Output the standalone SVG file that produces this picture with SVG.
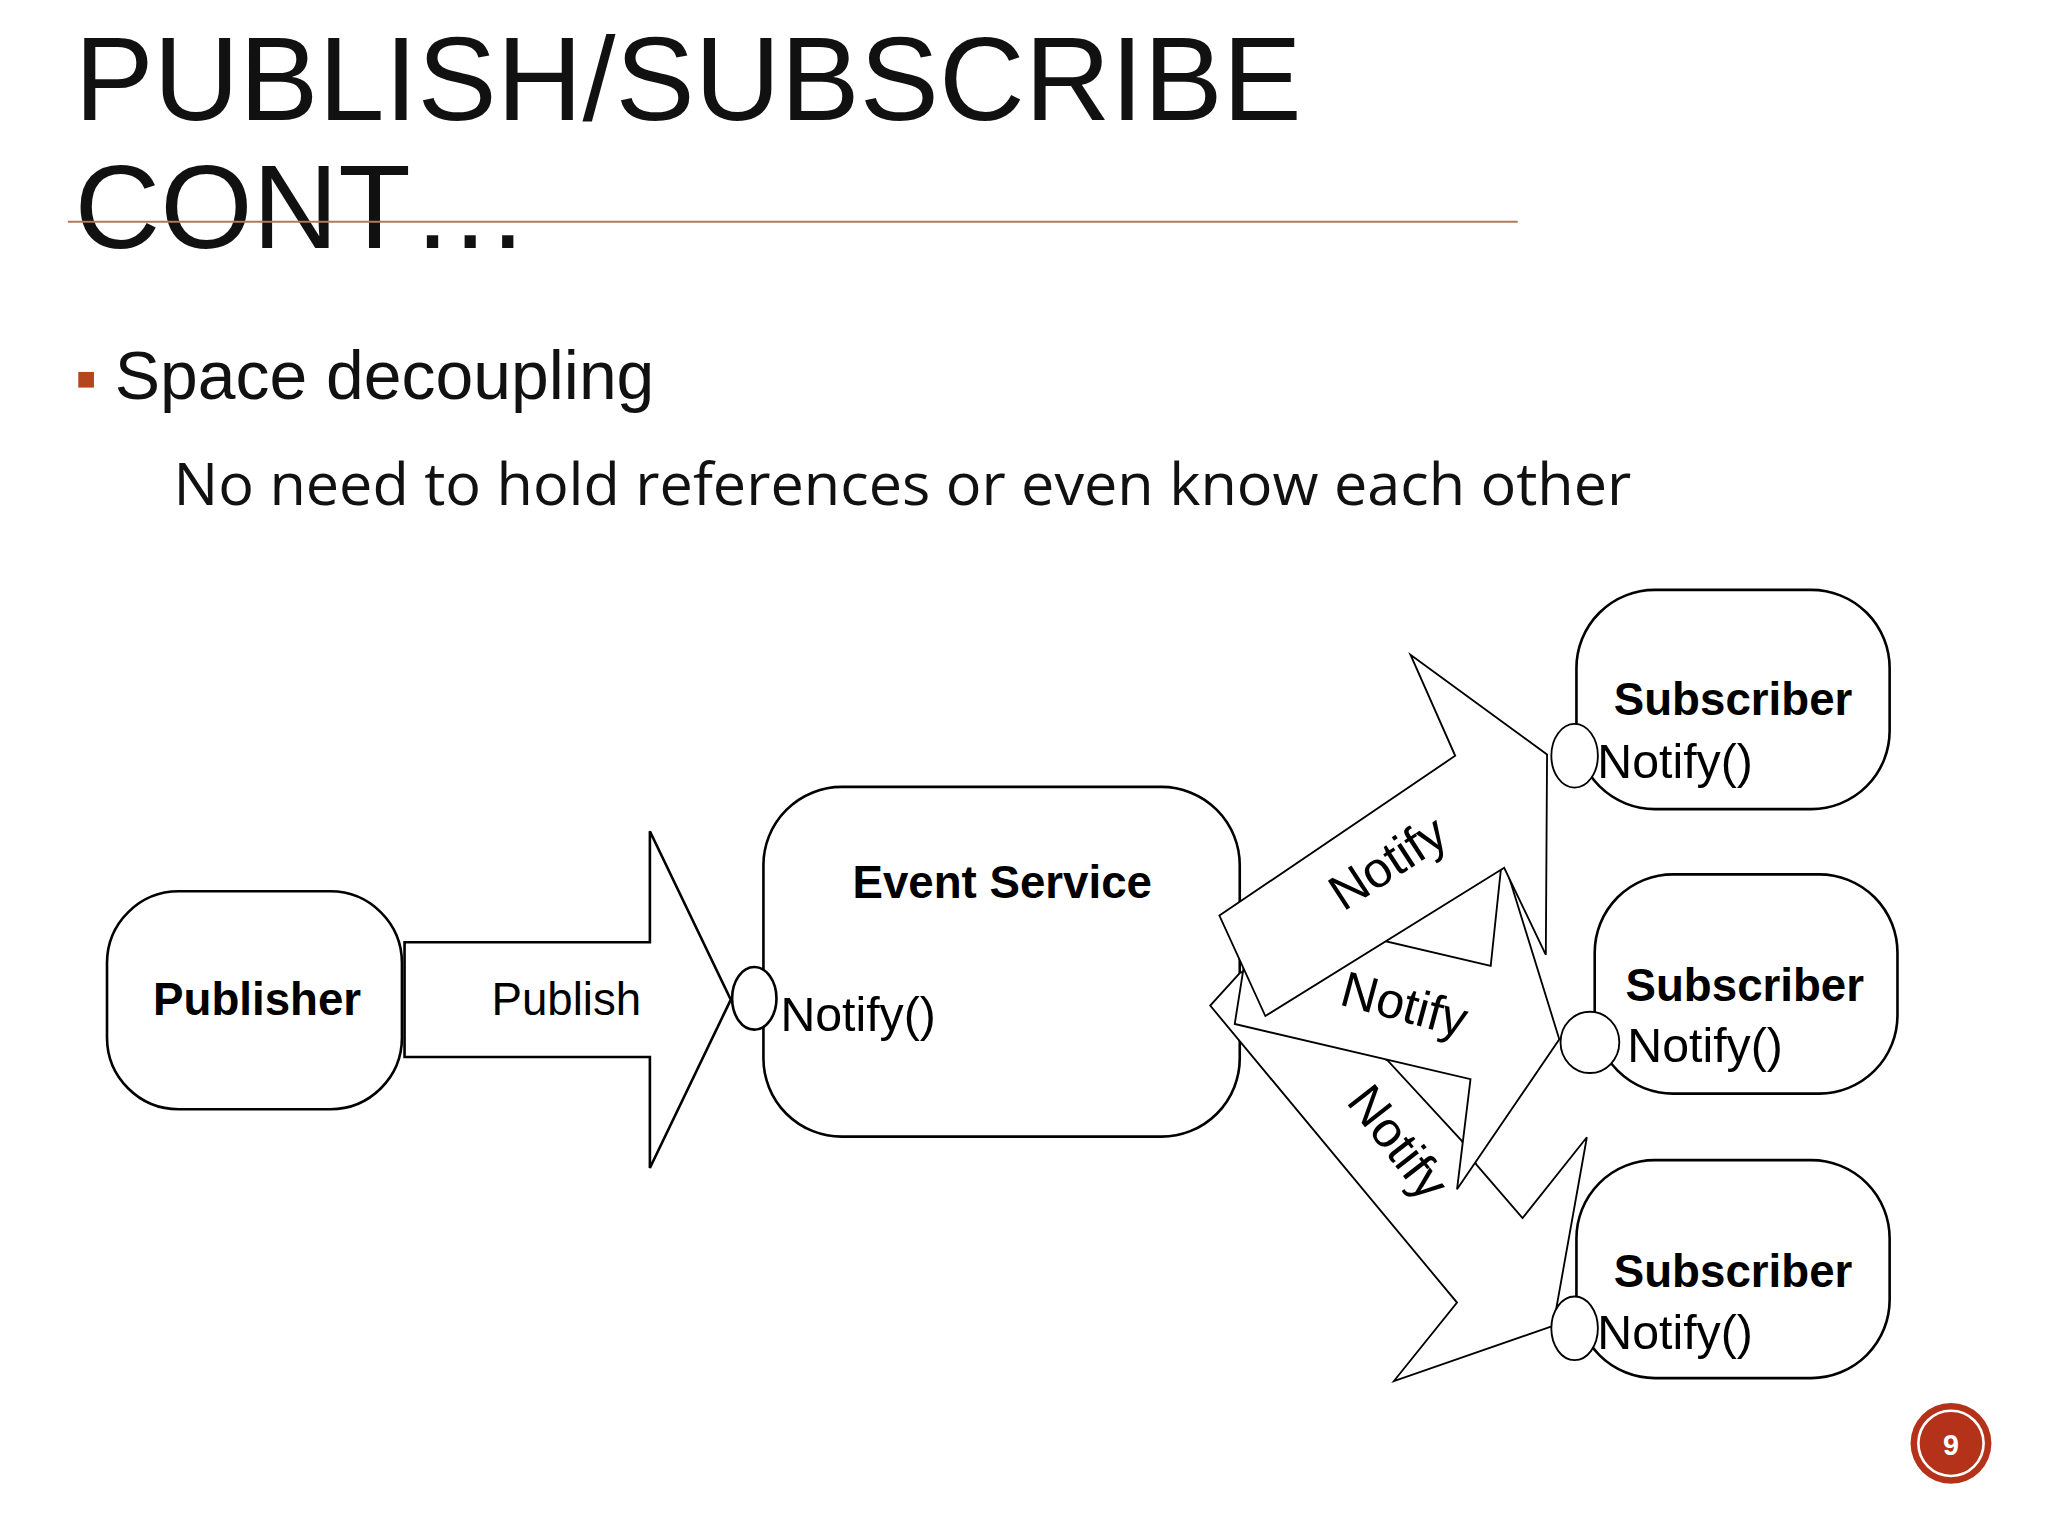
<svg xmlns="http://www.w3.org/2000/svg" width="2048" height="1536" viewBox="0 0 2048 1536">
<style>
.box{fill:#fff;stroke:#000;stroke-width:2}
.arr{fill:#fff;stroke:#000;stroke-width:3;stroke-linejoin:miter}
.b{font-family:"Liberation Sans",Arial,sans-serif;font-weight:bold;font-size:35px;text-anchor:middle}
.n{font-family:"Liberation Sans",Arial,sans-serif;font-size:37px}
</style>
<rect width="2048" height="1536" fill="#fff"/>
<g transform="scale(1.305)">
<g id="title">
<text x="57" y="92" font-family="Liberation Sans,Arial,sans-serif" font-size="91" fill="#111">PUBLISH/SUBSCRIBE</text>
<text x="57" y="190" font-family="Liberation Sans,Arial,sans-serif" font-size="91" fill="#111">CONT…</text>
<line x1="52" y1="170" x2="1163" y2="170" stroke="#b07a5a" stroke-width="1.5"/>
<rect x="60" y="285" width="12" height="12" fill="#b5451b"/>
<text x="88" y="306" font-family="Liberation Sans,Arial,sans-serif" font-size="52" fill="#111">Space decoupling</text>
<text x="133" y="387" font-family="Open Sans,sans-serif" font-size="45.5" fill="#111">No need to hold references or even know each other</text>
</g>
<g id="connectors-publish">
<polygon class="box" points="310,722 498,722 498,637 560,766 498,895 498,810 310,810"/>
<text class="n" x="434" y="778" text-anchor="middle" style="font-size:35px">Publish</text>
</g>
<g id="publisher">
<rect class="box" x="82" y="683" width="226" height="167" rx="55"/>
<text class="b" x="197" y="778">Publisher</text>
</g>
<g id="event-service">
<rect class="box" x="585" y="603" width="365" height="268" rx="60"/>
<text class="b" x="768" y="688">Event Service</text>
<text class="n" x="598" y="790">Notify()</text>
<ellipse class="box" cx="578" cy="765" rx="17" ry="24"/>
</g>
<g id="sub1">
<rect class="box" x="1208" y="452" width="240" height="168" rx="60"/>
<text class="b" x="1328" y="548">Subscriber</text>
<text class="n" x="1224" y="596">Notify()</text>
</g>
<g id="sub2">
<rect class="box" x="1222" y="670" width="232" height="168" rx="60"/>
<text class="b" x="1337" y="767">Subscriber</text>
<text class="n" x="1247" y="814">Notify()</text>
</g>
<g id="sub3">
<rect class="box" x="1208" y="889" width="240" height="167" rx="60"/>
<text class="b" x="1328" y="986">Subscriber</text>
<text class="n" x="1224" y="1034">Notify()</text>
</g>
<g id="page">
<circle cx="1495" cy="1106" r="31" fill="#b5321a"/>
<circle cx="1495" cy="1106" r="25" fill="none" stroke="#fff" stroke-width="2"/>
<text x="1495" y="1115" font-family="Liberation Sans,Arial,sans-serif" font-weight="bold" font-size="22" fill="#fff" text-anchor="middle">9</text>
</g>
</g>
<g id="connectors" transform="translate(1100,580) scale(0.6124)">
<polygon class="arr" points="230,640 180,695 583,1180 480,1308 740,1218 795,910 690,1042 615,955 590,915 470,785"/>
<polygon class="arr" points="300,690 235,630 220,725 605,815 583,995 750,750 657,450 638,630 458,588"/>
<polygon class="arr" points="195,548 580,287 507,122 730,285 728,612 660,470 270,712"/>
<text class="n" style="font-size:82px" transform="translate(485,485) rotate(-33)" text-anchor="middle">Notify</text>
<text class="n" style="font-size:82px" transform="translate(490,720) rotate(15)" text-anchor="middle">Notify</text>
<text class="n" style="font-size:82px" transform="translate(465,935) rotate(52)" text-anchor="middle">Notify</text>
<ellipse class="arr" cx="775" cy="287" rx="38" ry="52"/>
<ellipse class="arr" cx="800" cy="755" rx="48" ry="50"/>
<ellipse class="arr" cx="775" cy="1222" rx="38" ry="52"/>
</g>
</svg>
